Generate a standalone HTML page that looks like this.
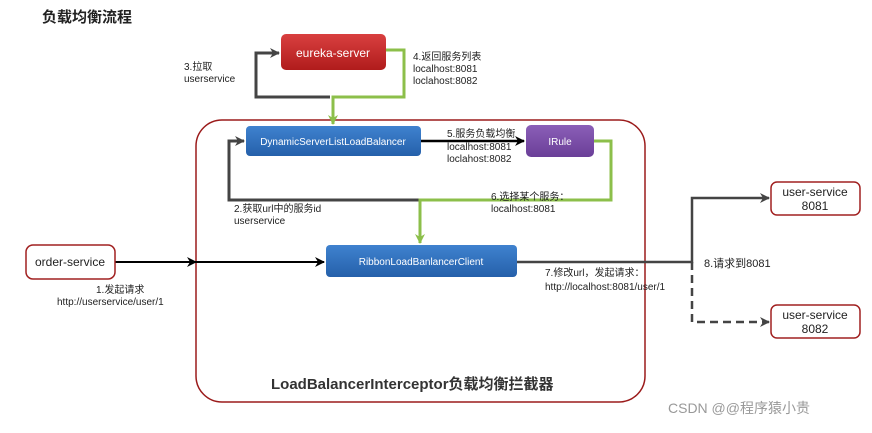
<!DOCTYPE html>
<html><head><meta charset="utf-8"><style>
body{margin:0;background:#fff;width:872px;height:428px;overflow:hidden}
svg text{font-family:"Liberation Sans","Noto Sans CJK SC",sans-serif}
</style></head><body>
<svg width="872" height="428" viewBox="0 0 872 428" xmlns="http://www.w3.org/2000/svg">
<defs>
<linearGradient id="gr" x1="0" y1="0" x2="0" y2="1"><stop offset="0" stop-color="#d94040"/><stop offset="1" stop-color="#b01c1c"/></linearGradient>
<linearGradient id="gb" x1="0" y1="0" x2="0" y2="1"><stop offset="0" stop-color="#3f82cf"/><stop offset="1" stop-color="#2560aa"/></linearGradient>
<linearGradient id="gp" x1="0" y1="0" x2="0" y2="1"><stop offset="0" stop-color="#8b5fb8"/><stop offset="1" stop-color="#6a3f98"/></linearGradient>
<marker id="ab" markerWidth="10" markerHeight="10" refX="9" refY="5" orient="auto" markerUnits="userSpaceOnUse"><path d="M0,0 L10,5 L0,10 L3,5 Z" fill="#000"/></marker>
<marker id="ag" markerWidth="10" markerHeight="10" refX="9" refY="5" orient="auto" markerUnits="userSpaceOnUse"><path d="M0,0 L10,5 L0,10 L3,5 Z" fill="#444"/></marker>
<marker id="agr" markerWidth="10" markerHeight="10" refX="9" refY="5" orient="auto" markerUnits="userSpaceOnUse"><path d="M0,0 L10,5 L0,10 L3,5 Z" fill="#8cbf4a"/></marker>
</defs>
<text x="42" y="22" font-size="15" font-weight="bold" fill="#222">负载均衡流程</text>
<rect x="196" y="120" width="449" height="282" rx="26" fill="none" stroke="#9b1b1b" stroke-width="1.5"/>
<path d="M330,97 L256,97 L256,53 L279,53" fill="none" stroke="#444" stroke-width="3" marker-end="url(#ag)"/>
<path d="M420,200 L229,200 L229,141 L244,141" fill="none" stroke="#444" stroke-width="3" marker-end="url(#ag)"/>
<path d="M386,50 L404,50 L404,97 L333,97 L333,124" fill="none" stroke="#8cbf4a" stroke-width="3" marker-end="url(#agr)"/>
<path d="M594,141 L611,141 L611,200 L420,200 L420,243" fill="none" stroke="#8cbf4a" stroke-width="3" marker-end="url(#agr)"/>
<path d="M421,141 L524,141" stroke="#000" stroke-width="2.5" marker-end="url(#ab)"/>
<path d="M115,262 L324,262" stroke="#000" stroke-width="2" marker-end="url(#ab)"/>
<path d="M115,262 L196,262" stroke="#000" stroke-width="2" marker-end="url(#ab)"/>
<path d="M517,262 L692,262 L692,198 L769,198" fill="none" stroke="#444" stroke-width="2.5" marker-end="url(#ag)"/>
<path d="M692,262 L692,322 L769,322" fill="none" stroke="#444" stroke-width="2.5" stroke-dasharray="8,5" marker-end="url(#ag)"/>
<rect x="281" y="34" width="105" height="36" rx="5" fill="url(#gr)"/>
<text x="333" y="57" font-size="12" fill="#fff" text-anchor="middle">eureka-server</text>
<rect x="246" y="126" width="175" height="30" rx="4" fill="url(#gb)"/>
<text x="333" y="145" font-size="10" fill="#fff" text-anchor="middle">DynamicServerListLoadBalancer</text>
<rect x="526" y="125" width="68" height="32" rx="5" fill="url(#gp)"/>
<text x="560" y="145" font-size="10" fill="#fff" text-anchor="middle">IRule</text>
<rect x="326" y="245" width="191" height="32" rx="4" fill="url(#gb)"/>
<text x="421" y="265" font-size="10" fill="#fff" text-anchor="middle">RibbonLoadBanlancerClient</text>
<rect x="26" y="245" width="89" height="34" rx="7" fill="#fff" stroke="#a12020" stroke-width="1.5"/>
<text x="70" y="266" font-size="12" fill="#222" text-anchor="middle">order-service</text>
<rect x="771" y="182" width="89" height="33" rx="6" fill="#fff" stroke="#a12020" stroke-width="1.5"/>
<text x="815" y="196" font-size="12" fill="#222" text-anchor="middle">user-service</text>
<text x="815" y="210" font-size="12" fill="#222" text-anchor="middle">8081</text>
<rect x="771" y="305" width="89" height="33" rx="6" fill="#fff" stroke="#a12020" stroke-width="1.5"/>
<text x="815" y="319" font-size="12" fill="#222" text-anchor="middle">user-service</text>
<text x="815" y="333" font-size="12" fill="#222" text-anchor="middle">8082</text>
<g font-size="10" fill="#222">
<text x="184" y="70">3.拉取</text><text x="184" y="82">userservice</text>
<text x="413" y="60">4.返回服务列表</text><text x="413" y="72">localhost:8081</text><text x="413" y="84">loclahost:8082</text>
<text x="447" y="137">5.服务负载均衡</text><text x="447" y="150">localhost:8081</text><text x="447" y="162">loclahost:8082</text>
<text x="491" y="200">6.选择某个服务：</text><text x="491" y="212">localhost:8081</text>
<text x="234" y="212">2.获取url中的服务id</text><text x="234" y="224">userservice</text>
<text x="96" y="293">1.发起请求</text><text x="57" y="305">http://userservice/user/1</text>
<text x="545" y="276">7.修改url，发起请求：</text><text x="545" y="290">http://localhost:8081/user/1</text>
<text x="704" y="267" font-size="11">8.请求到8081</text>
</g>
<text x="271" y="389" font-size="15" font-weight="bold" fill="#333">LoadBalancerInterceptor负载均衡拦截器</text>
<text x="668" y="413" font-size="14" fill="#999">CSDN @@程序猿小贵</text>
</svg>
</body></html>
